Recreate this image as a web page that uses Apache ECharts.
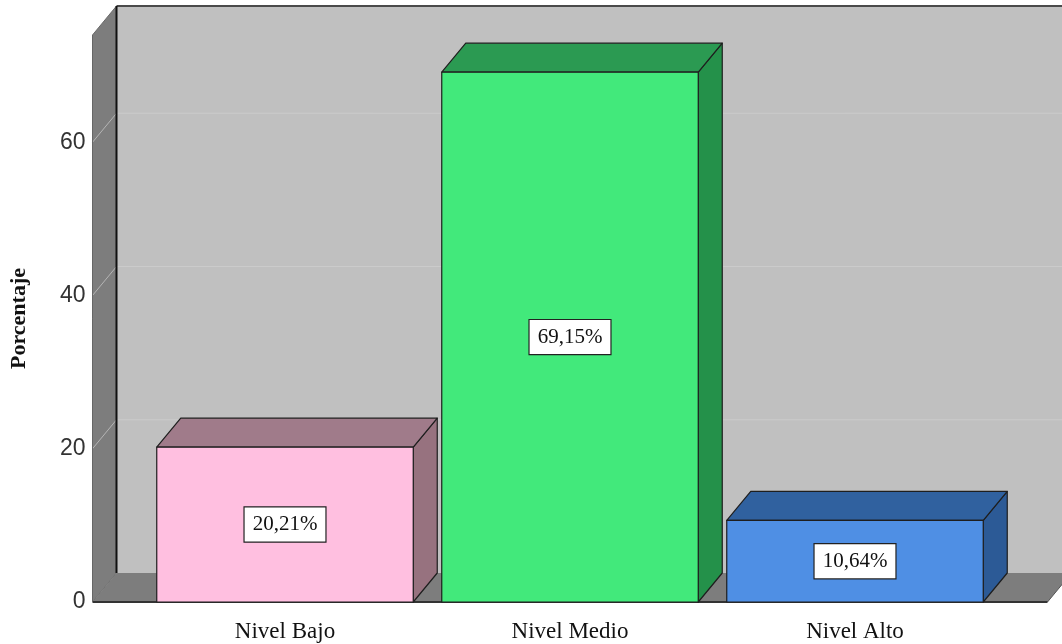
<!DOCTYPE html>
<html>
<head>
<meta charset="utf-8">
<script src="https://cdn.jsdelivr.net/npm/echarts@6/dist/echarts.min.js"></script>
<style>
  html, body { margin: 0; padding: 0; background: #ffffff; }
  #chart { width: 1062px; height: 644px; }
</style>
</head>
<body>
<div id="chart"></div>
<script>
// Niveles y porcentajes
const categories = ['Nivel Bajo', 'Nivel Medio', 'Nivel Alto'];
const percentages = [20.21, 69.15, 10.64];
const valueLabels = ['20,21%', '69,15%', '10,64%'];
const yTickValues = [0, 20, 40, 60];

// Colores de cada barra: cara frontal, cara superior, cara lateral
const frontColors = ['#ffbfe0', '#42e97b', '#4f8fe4'];
const topColors = ['#a07b8a', '#2b9a52', '#30619f'];
const sideColors = ['#97727f', '#24914a', '#2c5a96'];

// Profundidad de la perspectiva
const DX = 24, DY = -29;
const WALL_EXT = 50;

const chart = echarts.init(document.getElementById('chart'));

function renderWalls(params, api) {
  const cs = params.coordSys;
  const gx = cs.x, gy = cs.y, gw = cs.width, gh = cs.height;
  const base = gy + gh;
  const lx = gx - WALL_EXT;           // borde frontal de la pared izquierda
  const rx = gx + gw + WALL_EXT;      // borde frontal derecho del piso
  const bx = lx + DX;                 // pared del fondo, borde izquierdo
  const children = [];
  // pared del fondo
  children.push({ type: 'rect', shape: { x: bx, y: gy + DY, width: 1200, height: gh },
    style: { fill: '#c0c0c0' } });
  // lineas de la cuadricula en la pared del fondo y en la pared lateral
  yTickValues.forEach(function (v) {
    if (v === 0) return;
    const y = api.coord([0, v])[1];
    children.push({ type: 'line', shape: { x1: bx, y1: y + DY, x2: 1100, y2: y + DY },
      style: { stroke: '#cbcbcb', lineWidth: 1 } });
  });
  // pared izquierda
  children.push({ type: 'polygon', shape: { points: [[lx, gy], [bx, gy + DY], [bx, base + DY], [lx, base]] },
    style: { fill: '#7d7d7d', stroke: '#6a6a6a', lineWidth: 1 } });
  yTickValues.forEach(function (v) {
    if (v === 0) return;
    const y = api.coord([0, v])[1];
    children.push({ type: 'line', shape: { x1: lx, y1: y, x2: bx, y2: y + DY },
      style: { stroke: '#b5b5b5', lineWidth: 1 } });
  });
  // piso
  children.push({ type: 'polygon', shape: { points: [[lx, base], [bx, base + DY], [rx + DX + 40, base + DY], [rx + 40, base]] },
    style: { fill: '#7d7d7d' } });
  children.push({ type: 'polygon', shape: { points: [[rx, base], [rx + DX, base + DY], [1100, base + DY], [1100, base]] },
    style: { fill: '#ffffff' } });
  children.push({ type: 'line', shape: { x1: rx, y1: base, x2: rx + DX, y2: base + DY },
    style: { stroke: '#555', lineWidth: 1 } });
  // bordes oscuros
  children.push({ type: 'line', shape: { x1: bx, y1: gy + DY, x2: 1100, y2: gy + DY },
    style: { stroke: '#4a4a4a', lineWidth: 2 } });
  children.push({ type: 'line', shape: { x1: bx, y1: gy + DY, x2: bx, y2: base + DY },
    style: { stroke: '#111', lineWidth: 2 } });
  children.push({ type: 'line', shape: { x1: lx, y1: base, x2: rx, y2: base },
    style: { stroke: '#333', lineWidth: 2 } });
  children.push({ type: 'line', shape: { x1: lx, y1: gy, x2: lx, y2: base },
    style: { stroke: '#666', lineWidth: 1 } });
  return { type: 'group', children: children };
}

function renderBar(params, api) {
  const i = params.dataIndex;
  const top = api.coord([api.value(0), api.value(1)]);
  const bottom = api.coord([api.value(0), 0]);
  const band = api.size([1, 0])[0];
  const w = band * 0.9;
  const x0 = top[0] - w / 2, x1 = top[0] + w / 2;
  const yt = top[1], yb = bottom[1];
  const edge = { stroke: '#1e1e1e', lineWidth: 1.2, lineJoin: 'round' };
  return {
    type: 'group',
    children: [
      { type: 'polygon', shape: { points: [[x1, yt], [x1 + DX, yt + DY], [x1 + DX, yb + DY], [x1, yb]] },
        style: Object.assign({ fill: sideColors[i] }, edge) },
      { type: 'polygon', shape: { points: [[x0, yt], [x0 + DX, yt + DY], [x1 + DX, yt + DY], [x1, yt]] },
        style: Object.assign({ fill: topColors[i] }, edge) },
      { type: 'rect', shape: { x: x0, y: yt, width: w, height: yb - yt },
        style: Object.assign({ fill: frontColors[i] }, edge) },
      { type: 'text', x: top[0], y: (yt + yb) / 2,
        style: { text: valueLabels[i], align: 'center', verticalAlign: 'middle',
          font: '21px "Liberation Serif", serif', fill: '#111',
          backgroundColor: '#ffffff', borderColor: '#222', borderWidth: 1.2, padding: [7, 8, 6, 8] } }
    ]
  };
}

chart.setOption({
  animation: false,
  backgroundColor: '#ffffff',
  grid: { left: 142.5, right: 64.5, top: 35, bottom: 42 },
  xAxis: {
    type: 'category',
    data: categories,
    axisLine: { show: false },
    axisTick: { show: false },
    axisLabel: { margin: 18, fontFamily: 'Liberation Serif', fontSize: 23, color: '#111' }
  },
  yAxis: {
    type: 'value',
    min: 0, max: 74, interval: 20,
    name: 'Porcentaje',
    nameLocation: 'middle',
    nameGap: 112,
    nameTextStyle: { fontFamily: 'Liberation Serif', fontWeight: 'bold', fontSize: 22, color: '#111' },
    axisLine: { show: false },
    axisTick: { show: false },
    splitLine: { show: false },
    axisLabel: { margin: 57, showMaxLabel: false, fontFamily: 'Liberation Sans', fontSize: 23, color: '#333' }
  },
  series: [
    { type: 'custom', name: 'walls', renderItem: renderWalls, data: [[0, 0]], clip: false, z: 1, silent: true },
    { type: 'custom', name: 'Porcentaje', renderItem: renderBar, clip: false, z: 2,
      data: percentages.map(function (v, i) { return [i, v]; }) }
  ]
});
</script>
</body>
</html>
